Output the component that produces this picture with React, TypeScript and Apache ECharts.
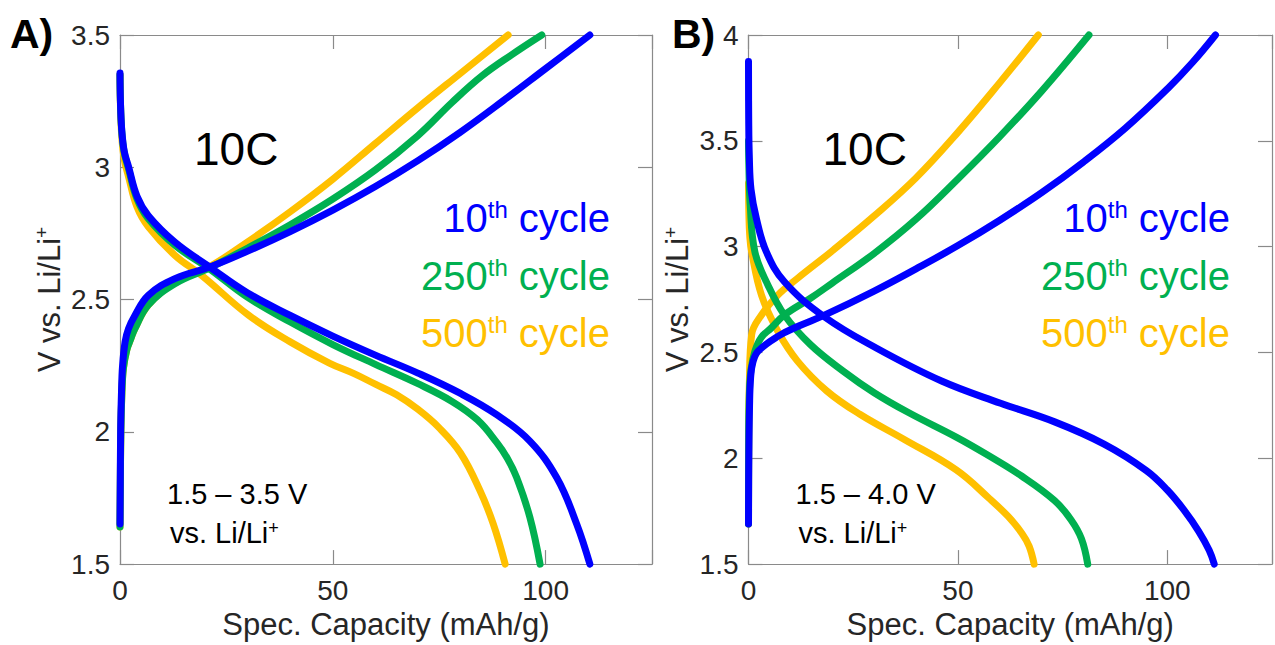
import React, { useEffect, useRef } from "react";
import * as echarts from "echarts";

// ---------- data (capacity mAh/g, voltage V) ----------
// Panel A: 1.5 - 3.5 V
const aBlueDischarge = [[0,3.356],[0.1,3.25],[0.4,3.143],[1.0,3.06],[1.96,3.005],[4,2.89],[6.66,2.817],[12.9,2.717],[21.1,2.623],[30,2.525],[40,2.44],[50,2.362],[60,2.29],[70,2.222],[80,2.145],[88.5,2.065],[96.3,1.965],[102.6,1.827],[107.3,1.652],[110.4,1.5]];
const aGreenDischarge = [[0,3.35],[0.1,3.25],[0.4,3.14],[1,3.055],[2,2.995],[4,2.88],[6.66,2.805],[12.9,2.705],[21.1,2.615],[30,2.508],[40,2.415],[50,2.33],[60,2.255],[70,2.182],[78,2.115],[84,2.045],[88.5,1.96],[91,1.9],[93.2,1.827],[96.3,1.677],[98.7,1.5]];
const aGoldDischarge = [[0,3.35],[0.1,3.24],[0.4,3.12],[1,3.03],[2,2.965],[4,2.85],[6.66,2.775],[12.9,2.667],[19.2,2.591],[30.2,2.441],[40,2.34],[49.3,2.259],[55,2.22],[60,2.18],[65,2.14],[70,2.085],[75,2.015],[80,1.92],[84.6,1.777],[87.7,1.652],[90.5,1.5]];
const aBlueCharge = [[0,1.652],[0.15,2.0],[0.35,2.15],[0.6,2.25],[1.2,2.34],[2,2.39],[3.5,2.44],[6.66,2.516],[12.9,2.579],[21.1,2.623],[30,2.683],[40,2.757],[50,2.838],[60,2.927],[70,3.025],[80,3.133],[90,3.251],[100,3.373],[110.4,3.5]];
const aGreenCharge = [[0,1.64],[0.2,2.0],[0.45,2.15],[0.8,2.24],[1.6,2.31],[2.5,2.35],[3.5,2.39],[6.66,2.48],[12.9,2.56],[21.1,2.62],[30,2.695],[40,2.783],[50,2.88],[60,2.99],[70,3.12],[78,3.245],[85,3.345],[92,3.425],[99.1,3.5]];
const aGoldCharge = [[0,1.64],[0.2,2.0],[0.45,2.15],[0.8,2.24],[1.6,2.31],[2.5,2.35],[3.5,2.39],[6.66,2.48],[12.9,2.565],[21.1,2.625],[30,2.718],[40,2.832],[50,2.955],[60,3.09],[70,3.225],[80,3.355],[91.2,3.5]];

// Panel B: 1.5 - 4.0 V
const bBlueDischarge = [[0,3.875],[0.05,3.6],[0.2,3.42],[0.6,3.27],[1.9,3.131],[4.27,2.975],[8.57,2.834],[18,2.67],[30.5,2.521],[46.1,2.365],[60.2,2.26],[73.1,2.172],[84.9,2.067],[95,1.942],[100,1.85],[104,1.755],[107.5,1.655],[110,1.565],[111.2,1.5]];
const bGreenDischarge = [[0,3.5],[0.1,3.37],[0.4,3.2],[1.53,2.975],[4.65,2.818],[8.57,2.677],[14.8,2.537],[22.6,2.412],[30,2.31],[38.3,2.215],[49.6,2.1],[56.7,2.02],[65.3,1.915],[73.1,1.8],[77,1.71],[79.5,1.62],[81,1.5]];
const bGoldDischarge = [[0,3.3],[0.1,3.15],[0.3,3.05],[0.75,2.975],[3.1,2.771],[7,2.6],[11.7,2.459],[18.7,2.318],[26.6,2.208],[37.1,2.09],[49.6,1.945],[57.5,1.81],[62,1.725],[65.3,1.645],[67,1.585],[68.2,1.5]];
const bBlueCharge = [[0,1.69],[0.08,2.0],[0.25,2.25],[0.5,2.38],[1,2.45],[2.3,2.506],[7,2.576],[12,2.625],[18,2.675],[30,2.79],[40,2.895],[50,3.005],[60,3.125],[70,3.255],[80,3.4],[90,3.56],[100,3.745],[106,3.87],[111.5,4.0]];
const bGreenCharge = [[0,1.69],[0.05,2.1],[0.2,2.3],[0.6,2.42],[1.53,2.506],[3,2.57],[5.4,2.615],[8.57,2.677],[14.8,2.756],[20,2.828],[30,2.968],[40,3.13],[50,3.32],[60,3.52],[70,3.735],[81.3,4.0]];
const bGoldCharge = [[0,1.69],[0.05,2.1],[0.2,2.35],[0.75,2.584],[3.1,2.677],[7,2.771],[11.7,2.85],[20,2.98],[30,3.145],[40,3.325],[50,3.54],[60,3.775],[69.2,4.0]];

const cycleLabels = ["10", "250", "500"];
const panelLetters = ["A)", "B)"];
const rangeLabels = ["1.5 \u2013 3.5 V", "1.5 \u2013 4.0 V"];
const rateLabel = "10C";
const xName = "Spec. Capacity (mAh/g)";
const yRanges = [[1.5, 3.5], [1.5, 4.0]];
const xRange = [0, 125];

const FONT = '"Liberation Sans", Arial, Helvetica, sans-serif';
const AXC = "#8a8a8a";
const TXT = "#262626";
const BLUE = "#0000FF";
const GREEN = "#00B050";
const GOLD = "#FFC000";
const CYCLE_COLORS = [BLUE, GREEN, GOLD];

const GRID_LEFTS = [120, 748.5];
const GRID_TOP = 35;
const GRID_SIZE = 532;

function xAxes(gi: number) {
  const common = {
    gridIndex: gi,
    type: "value",
    min: xRange[0],
    max: xRange[1],
    interval: 50,
    splitLine: { show: false },
    axisLine: { show: true, onZero: false, lineStyle: { color: AXC, width: 1.2 } },
    axisTick: { show: true, inside: true, length: 14, lineStyle: { color: AXC, width: 1.2 } },
  };
  return [
    {
      ...common,
      position: "bottom",
      axisLabel: {
        show: true,
        fontSize: 28,
        fontFamily: FONT,
        color: TXT,
        margin: 12,
        formatter: (v: number) => (v % 50 === 0 ? String(v) : ""),
      },
      name: xName,
      nameLocation: "middle",
      nameGap: 43,
      nameTextStyle: { fontSize: 31, fontFamily: FONT, color: TXT },
    },
    { ...common, position: "top", axisLabel: { show: false } },
  ];
}

function yAxes(gi: number) {
  const common = {
    gridIndex: gi,
    type: "value",
    min: yRanges[gi][0],
    max: yRanges[gi][1],
    interval: 0.5,
    splitLine: { show: false },
    axisLine: { show: true, onZero: false, lineStyle: { color: AXC, width: 1.2 } },
    axisTick: { show: true, inside: true, length: 14, lineStyle: { color: AXC, width: 1.2 } },
  };
  return [
    {
      ...common,
      position: "left",
      axisLabel: { show: true, fontSize: 28, fontFamily: FONT, color: TXT, margin: 10 },
      name: "V vs. Li/Li{s|+}",
      nameLocation: "middle",
      nameGap: 54,
      nameTextStyle: {
        fontSize: 31,
        fontFamily: FONT,
        color: TXT,
        lineHeight: 34,
        rich: { s: { fontSize: 19, fontFamily: FONT, color: TXT, lineHeight: 18, verticalAlign: "top" } },
      },
    },
    { ...common, position: "right", axisLabel: { show: false } },
  ];
}

function lineSeries(data: number[][], color: string, gi: number) {
  return {
    type: "line",
    data,
    xAxisIndex: gi * 2,
    yAxisIndex: gi * 2,
    showSymbol: false,
    symbol: "none",
    smooth: 0.4,
    clip: false,
    lineStyle: { color, width: 7, cap: "round", join: "round" },
    emphasis: { disabled: true },
  };
}

function txt(x: number, y: number, text: string, size: number, color: string, align: string, extra: any = {}) {
  return {
    type: "text",
    x,
    y,
    z: 100,
    style: {
      text,
      fill: color,
      font: `${extra.weight || "normal"} ${size}px ${FONT}`,
      fontSize: size,
      fontFamily: FONT,
      fontWeight: extra.weight || "normal",
      align,
      textAlign: align,
      verticalAlign: "middle",
      textVerticalAlign: "middle",
      rich: extra.rich,
    },
  };
}

function legendText(x: number, y: number, label: string, color: string) {
  return txt(x, y, `{n|${label}}{s|th}{n| cycle}`, 40, color, "right", {
    rich: {
      n: { fontSize: 40, fontFamily: FONT, fill: color, lineHeight: 42 },
      s: { fontSize: 24, fontFamily: FONT, fill: color, lineHeight: 23, verticalAlign: "top" },
    },
  });
}

export default function App() {
  const ref = useRef<HTMLDivElement>(null);

  useEffect(() => {
    document.body.style.margin = "0";
    document.body.style.overflow = "hidden";
    if (!ref.current) return;
    const chart = echarts.init(ref.current, undefined, { renderer: "svg" });

    const graphics: any[] = [];
    const legendY = [218, 276, 333];
    [0, 1].forEach((gi) => {
      const left = GRID_LEFTS[gi];
      graphics.push(txt(gi === 0 ? 10 : 672, 34, panelLetters[gi], 41, "#000", "left", { weight: "bold" }));
      graphics.push(txt(left + 74, 149, rateLabel, 46, "#000", "left"));
      graphics.push(txt(left + 47, 494, rangeLabels[gi], 29, "#000", "left"));
      graphics.push(
        txt(left + 50, 533, "vs. Li/Li{s|+}", 29, "#000", "left", {
          rich: { s: { fontSize: 18, fontFamily: FONT, fill: "#000", lineHeight: 16, verticalAlign: "top" } },
        })
      );
      const rightX = gi === 0 ? 610 : 1230;
      cycleLabels.forEach((c, i) => graphics.push(legendText(rightX, legendY[i], c, CYCLE_COLORS[i])));
    });

    const option: any = {
      animation: false,
      backgroundColor: "#ffffff",
      grid: GRID_LEFTS.map((l) => ({ left: l, top: GRID_TOP, width: GRID_SIZE, height: GRID_SIZE, containLabel: false })),
      xAxis: [...xAxes(0), ...xAxes(1)],
      yAxis: [...yAxes(0), ...yAxes(1)],
      series: [
        lineSeries(aGoldDischarge, GOLD, 0),
        lineSeries(aGoldCharge, GOLD, 0),
        lineSeries(aGreenDischarge, GREEN, 0),
        lineSeries(aGreenCharge, GREEN, 0),
        lineSeries(aBlueCharge, BLUE, 0),
        lineSeries(aBlueDischarge, BLUE, 0),
        lineSeries(bGoldDischarge, GOLD, 1),
        lineSeries(bGoldCharge, GOLD, 1),
        lineSeries(bGreenDischarge, GREEN, 1),
        lineSeries(bGreenCharge, GREEN, 1),
        lineSeries(bBlueCharge, BLUE, 1),
        lineSeries(bBlueDischarge, BLUE, 1),
      ],
      graphic: graphics,
    };
    chart.setOption(option);
    return () => chart.dispose();
  }, []);

  return <div ref={ref} style={{ width: 1275, height: 645 }} />;
}
